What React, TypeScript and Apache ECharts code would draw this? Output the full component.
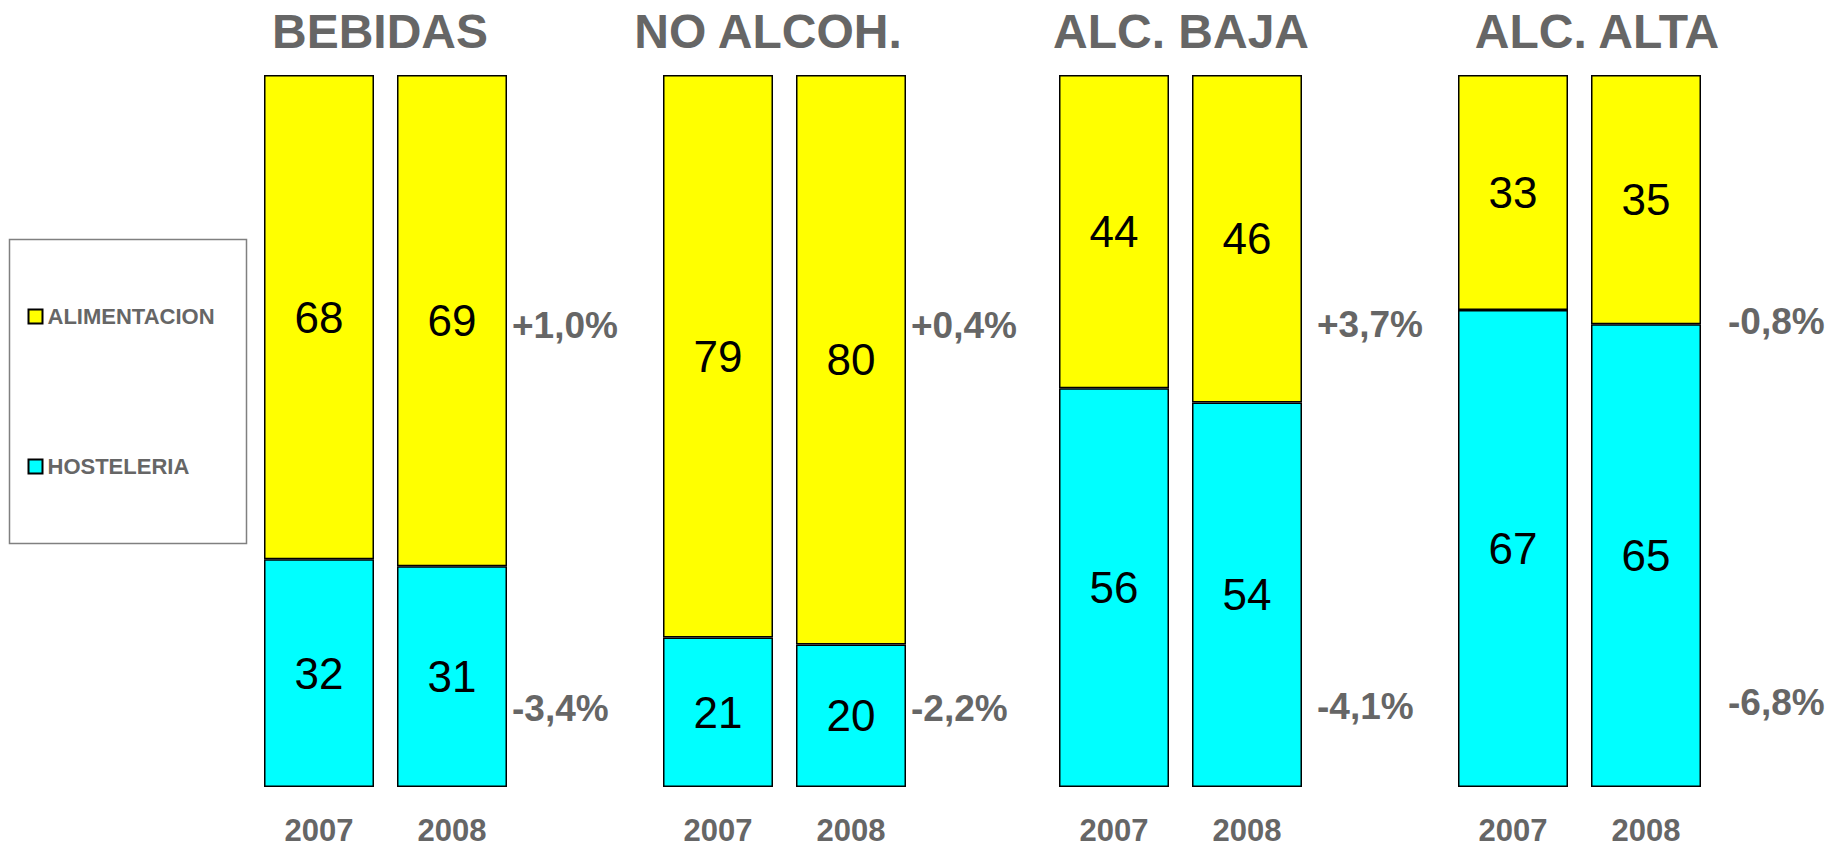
import React, { useEffect, useRef } from "react";
import * as echarts from "echarts";

// ---- data ----
const groups = ["BEBIDAS", "NO ALCOH.", "ALC. BAJA", "ALC. ALTA"];
const years = ["2007", "2008"];
const alimentacion = [
  [68, 69],
  [79, 80],
  [44, 46],
  [33, 35],
];
const hosteleria = [
  [32, 31],
  [21, 20],
  [56, 54],
  [67, 65],
];
const alimChange = ["+1,0%", "+0,4%", "+3,7%", "-0,8%"];
const hostChange = ["-3,4%", "-2,2%", "-4,1%", "-6,8%"];

// ---- layout ----
const FONT = "'Liberation Sans', Arial, Helvetica, sans-serif";
const GRAY = "#666666";
const gridLefts = [252.5, 651.5, 1047.5, 1446.5];
const gridTop = 75;
const gridHeight = 712;
const gridWidth = 266;
const titleX = [380, 768, 1181, 1597];
const changeX = [512, 911, 1317, 1728];
const changeYTop = [325, 325, 324, 321];
const changeYBottom = [708, 708, 706, 702];

export default function App() {
  const ref = useRef<HTMLDivElement>(null);
  useEffect(() => {
    if (!ref.current) return;
    const chart = echarts.init(ref.current, undefined, { renderer: "svg" });
    const grids = gridLefts.map((l) => ({
      left: l,
      top: gridTop,
      width: gridWidth,
      height: gridHeight,
    }));
    const xAxes = groups.map((_, i) => ({
      type: "category",
      gridIndex: i,
      data: years,
      axisLine: { show: false },
      axisTick: { show: false },
      axisLabel: {
        margin: 30,
        fontSize: 31,
        lineHeight: 26,
        fontWeight: "bold",
        color: GRAY,
        fontFamily: FONT,
      },
    }));
    const yAxes = groups.map((_, i) => ({
      type: "value",
      gridIndex: i,
      min: 0,
      max: 100,
      show: false,
      splitLine: { show: false },
    }));
    const labelStyle = {
      show: true,
      position: "inside",
      fontSize: 44,
      color: "#000",
      fontFamily: FONT,
    };
    const series: any[] = [];
    groups.forEach((_, i) => {
      series.push({
        name: "HOSTELERIA",
        type: "bar",
        xAxisIndex: i,
        yAxisIndex: i,
        stack: "s" + i,
        barWidth: 110,
        data: hosteleria[i],
        itemStyle: { color: "#00FFFF", borderColor: "#000", borderWidth: 1.5 },
        label: labelStyle,
      });
      series.push({
        name: "ALIMENTACION",
        type: "bar",
        xAxisIndex: i,
        yAxisIndex: i,
        stack: "s" + i,
        barWidth: 110,
        data: alimentacion[i],
        itemStyle: { color: "#FFFF00", borderColor: "#000", borderWidth: 1.5 },
        label: labelStyle,
      });
    });
    const graphics: any[] = [
      {
        type: "rect",
        shape: { x: 9.5, y: 239.5, width: 237, height: 304 },
        style: { fill: "#fff", stroke: "#808080", lineWidth: 1.5 },
        z: -1,
      },
    ];
    groups.forEach((g, i) => {
      graphics.push({
        type: "text",
        x: titleX[i],
        y: 31,
        style: {
          text: g,
          fill: GRAY,
          font: `bold 48px ${FONT}`,
          align: "center",
          verticalAlign: "middle",
        },
      });
      graphics.push({
        type: "text",
        x: changeX[i],
        y: changeYTop[i],
        style: {
          text: alimChange[i],
          fill: GRAY,
          font: `bold 37px ${FONT}`,
          align: "left",
          verticalAlign: "middle",
        },
      });
      graphics.push({
        type: "text",
        x: changeX[i],
        y: changeYBottom[i],
        style: {
          text: hostChange[i],
          fill: GRAY,
          font: `bold 37px ${FONT}`,
          align: "left",
          verticalAlign: "middle",
        },
      });
    });
    chart.setOption({
      animation: false,
      backgroundColor: "#ffffff",
      grid: grids,
      xAxis: xAxes,
      yAxis: yAxes,
      series,
      legend: {
        data: ["ALIMENTACION", "HOSTELERIA"],
        orient: "vertical",
        left: 27.5,
        top: 305.5,
        itemGap: 128,
        itemWidth: 14,
        itemHeight: 14,
        icon: "rect",
        padding: 0,
        textStyle: {
          fontSize: 22,
          lineHeight: 22,
          fontWeight: "bold",
          color: GRAY,
          fontFamily: FONT,
        },
        selectedMode: false,
      },
      graphic: graphics,
    });
    return () => chart.dispose();
  }, []);
  return (
    <div
      ref={ref}
      style={{ position: "absolute", left: 0, top: 0, width: 1841, height: 847 }}
    />
  );
}
